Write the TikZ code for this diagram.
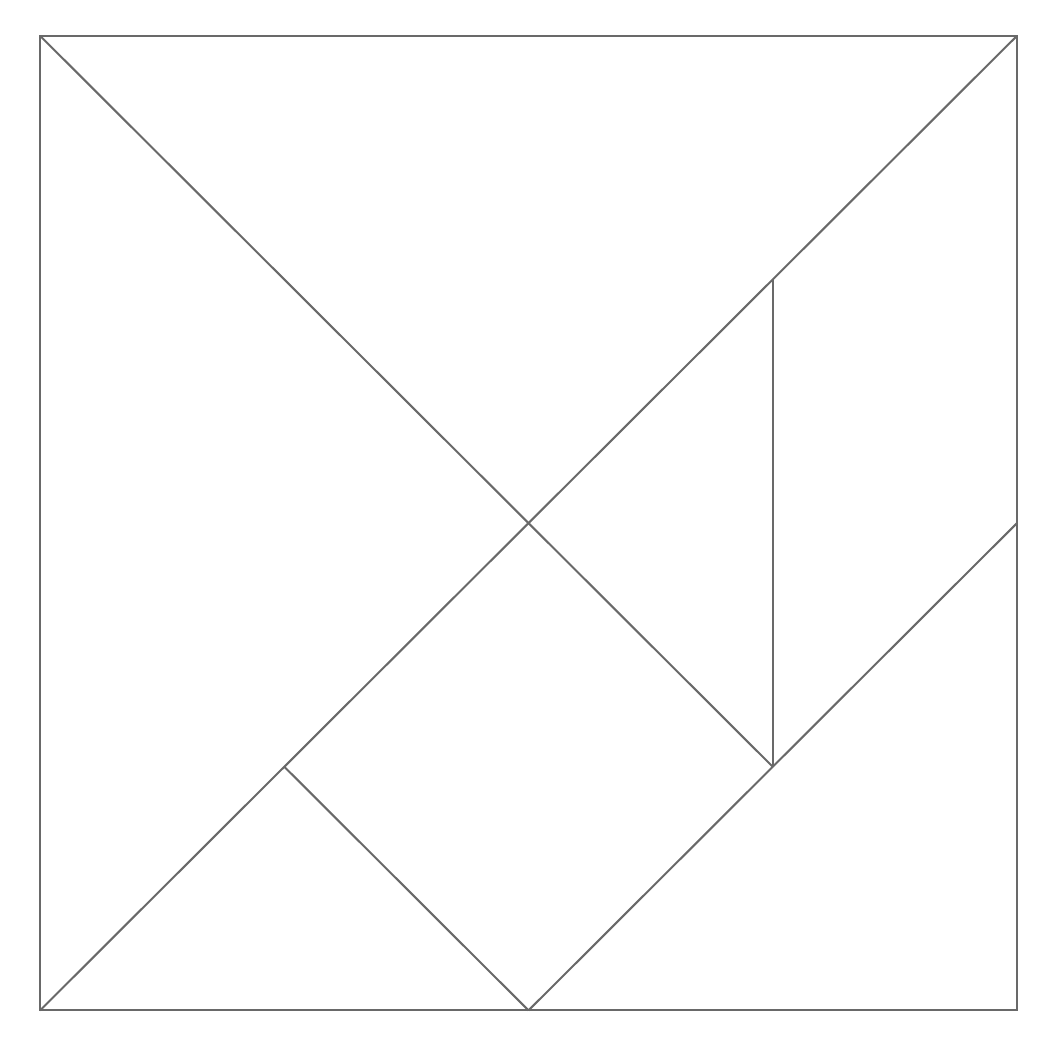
\documentclass[tikz,border=0pt]{standalone}
\usepackage{tikz}
\definecolor{edgegray}{RGB}{105,105,105}

\begin{document}
\begin{tikzpicture}[x=2.5cm, y=2.494cm, piece/.style={draw=edgegray, line width=0.6pt, line join=miter}]
        \useasboundingbox (-0.164,-0.156) rectangle (4.168,4.147);
        \coordinate (BL) at (0,0);
        \coordinate (BR) at (4,0);
        \coordinate (TR) at (4,4);
        \coordinate (TL) at (0,4);
        \coordinate (C) at (2,2);
        \coordinate (M) at (2,0);
        \coordinate (R) at (4,2);
        \coordinate (P) at (1,1);
        \coordinate (Q) at (3,1);
        \coordinate (S) at (3,3);
        
        \draw[piece] (BL) -- (BR) -- (TR) -- (TL) -- cycle;
        \draw[piece] (BL) -- (TR);
        \draw[piece] (TL) -- (Q);
        \draw[piece] (S) -- (Q);
        \draw[piece] (P) -- (M);
        \draw[piece] (M) -- (R);
    \end{tikzpicture}
\end{document}
